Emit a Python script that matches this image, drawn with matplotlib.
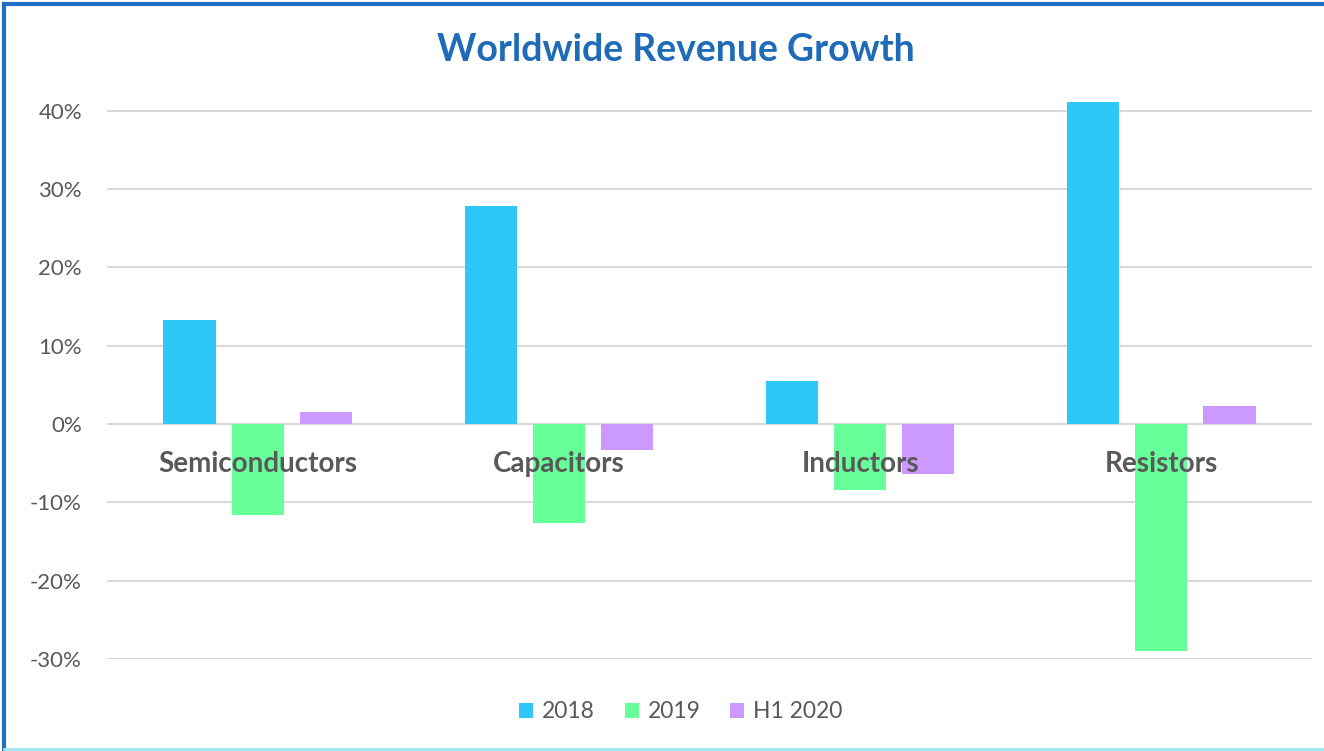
import numpy as np
import matplotlib
matplotlib.use("Agg")
import matplotlib.pyplot as plt
from matplotlib.lines import Line2D
from matplotlib.patches import Patch
from matplotlib.ticker import FuncFormatter

# Growth figures by component category (fractions)
categories = ["Semiconductors", "Capacitors", "Inductors", "Resistors"]
series_names = ["2018", "2019", "H1 2020"]
growth_2018 = [0.133, 0.278, 0.055, 0.411]
growth_2019 = [-0.116, -0.126, -0.084, -0.290]
growth_h1_2020 = [0.015, -0.033, -0.064, 0.023]
y_ticks = [-0.3, -0.2, -0.1, 0.0, 0.1, 0.2, 0.3, 0.4]

colors = ["#2EC8F8", "#66FF99", "#CC99FF"]
text_gray = "#595959"
font = "Lato"

fig = plt.figure(figsize=(13.24, 7.51), dpi=100)
fig.patch.set_facecolor("white")
ax = fig.add_axes([107 / 1324, 1 - 659 / 751, 1205 / 1324, 564 / 751])

x = np.arange(len(categories))
step = 0.226
width = 0.173
all_series = [growth_2018, growth_2019, growth_h1_2020]
for i, (vals, c) in enumerate(zip(all_series, colors)):
    ax.bar(x + (i - 1) * step, vals, width=width, color=c, zorder=2)

ax.set_xlim(-0.5, len(categories) - 0.5)
ax.set_ylim(-0.30, 0.42)
ax.set_yticks(y_ticks)
# plain hyphen for negatives, as in a spreadsheet
ax.yaxis.set_major_formatter(FuncFormatter(lambda v, _: f"{round(v * 100):d}%"))
ax.grid(axis="y", color="#D9D9D9", linewidth=1.5, zorder=0)
ax.set_xticks([])
for s in ax.spines.values():
    s.set_visible(False)
ax.tick_params(axis="y", length=0, pad=18, labelsize=16, labelcolor=text_gray)
for lbl in ax.get_yticklabels():
    lbl.set_fontfamily(font)

# Category names sit just under the zero line, over the bars
for xi, name in zip(x, categories):
    ax.text(xi, -0.051, name, ha="center", va="center", fontsize=20,
            color=text_gray, fontfamily=font, fontweight="bold", zorder=3)

fig.text(676 / 1324, 1 - 50 / 751, "Worldwide Revenue Growth", ha="center",
         va="center", fontsize=27, color="#1E6BB8", fontfamily=font,
         fontweight="bold")

handles = [Patch(facecolor=c, label=n) for c, n in zip(colors, series_names)]
leg = fig.legend(handles=handles, loc="center", bbox_to_anchor=(681 / 1324, 1 - 712 / 751),
                 ncol=3, frameon=False, handlelength=0.6, handleheight=0.6,
                 handletextpad=0.4, columnspacing=1.3,
                 prop={"family": font, "size": 16.5})
for t in leg.get_texts():
    t.set_color(text_gray)

# Chart frame edges
fig.add_artist(Line2D([0.003, 0.003], [0, 0.995], transform=fig.transFigure,
                      color="#1F6FC5", linewidth=3))
fig.add_artist(Line2D([0.003, 1], [0.995, 0.995], transform=fig.transFigure,
                      color="#1F6FC5", linewidth=3))
fig.add_artist(Line2D([0.003, 1], [0.003, 0.003], transform=fig.transFigure,
                      color="#9FE6F5", linewidth=2))

fig.savefig("out.png", dpi=100)
